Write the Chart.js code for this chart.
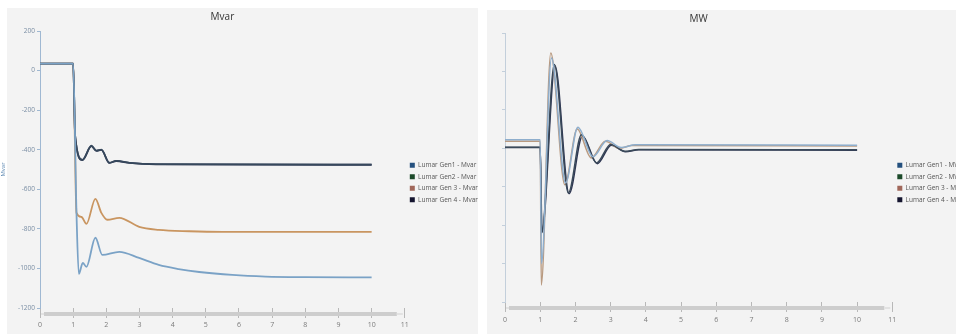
<!DOCTYPE html>
<html><head><meta charset="utf-8">
<script src="https://cdn.jsdelivr.net/npm/chart.js@4.4.1/dist/chart.umd.min.js"></script>
<style>
html,body{margin:0;padding:0;width:956px;height:334px;overflow:hidden;background:#fff;}
.panel{position:absolute;background:#f3f3f3}
.wrap{position:absolute;top:0;height:334px}
</style></head><body>
<div class="panel" style="left:7px;top:8px;width:471px;height:326px"></div>
<div class="panel" style="left:487px;top:10px;width:469px;height:324px"></div>
<div class="wrap" style="left:0;width:492px"><canvas id="c1"></canvas></div>
<div class="wrap" style="left:476px;width:500px"><canvas id="c2"></canvas></div>
<script>
// ---------- shared ----------
const xTicks = [0,1,2,3,4,5,6,7,8,9,10,11];
const legendSwatches = ['#24507e','#1c4a2a','#a0675a','#14142e'];

// ---------- Mvar (left) ----------
const mvarTitle = 'Mvar';
const mvarNames = ['Lumar Gen1 - Mvar','Lumar Gen2 - Mvar','Lumar Gen 3 - Mvar','Lumar Gen 4 - Mvar'];
const mvarYTicks = [200,0,-200,-400,-600,-800,-1000,-1200];

const mvarGen1T = [0,1.0,1.1,1.17,1.29,1.4,1.67,1.88,2.39,2.99,3.58,4.18,4.8,5.8,6.8,8,10];
const mvarGen1V = [35,35,-719,-1028,-972,-992,-845,-932,-916,-947,-982,-1003,-1018,-1033,-1041,-1044,-1045];

const mvarGen2T = [0,1.0,1.06,1.28,1.55,1.70,1.85,2.09,2.3,2.7,3.5,10];
const mvarGen2V = [35,35,-330,-451,-380,-405,-400,-466,-456,-466,-473,-475];

const mvarGen3T = [0,1.0,1.1,1.25,1.4,1.67,1.85,2.03,2.39,2.99,3.58,4.5,5.5,10];
const mvarGen3V = [35,35,-719,-740,-775,-648,-719,-754,-744,-790,-805,-812,-815,-815];

const mvarGen4T = [0,1.0,1.06,1.28,1.55,1.70,1.85,2.09,2.3,2.7,3.5,10];
const mvarGen4V = [35,35,-332,-452,-382,-406,-401,-467,-457,-467,-474,-476];

// ---------- MW (right) ----------
const mwTitle = 'MW';
const mwNames = ['Lumar Gen1 - MW','Lumar Gen2 - MW','Lumar Gen 3 - MW','Lumar Gen 4 - MW'];
const mwYTicks = [400,300,200,100,0,-100,-200,-300];

const mwGen1T = [0,1.0,1.035,1.32,1.72,2.07,2.5,2.9,3.3,3.7,10];
const mwGen1V = [122,122,-200,335,10,155,78,120,102,109,108];

const mwGen2T = [0,1.0,1.045,1.40,1.80,2.17,2.6,3.0,3.4,3.8,10];
const mwGen2V = [103,103,-120,318,-16,135,62,110,92,97,96];

const mwGen3T = [0,1.0,1.03,1.30,1.70,2.05,2.45,2.85,3.25,3.6,10];
const mwGen3V = [118,118,-256,348,5,150,75,118,100,107,106];

const mwGen4T = [0,1.0,1.05,1.42,1.82,2.20,2.62,3.02,3.42,3.8,10];
const mwGen4V = [102,102,-118,315,-18,132,60,108,91,96,95];

function pts(t,v){return t.map((x,i)=>({x:x,y:v[i]}));}

const rangeBar = {
  id:'rangeBar',
  afterDraw(chart, args, o){
    const a = chart.chartArea, ctx = chart.ctx;
    const y = a.bottom + o.offset;
    ctx.save();
    ctx.fillStyle = '#cdcdcd';
    ctx.fillRect(a.left+4, y, a.right - a.left - 12, 4);
    ctx.fillStyle = '#e2e2e2';
    ctx.fillRect(a.left+1, y+1, 3, 2);
    ctx.fillRect(a.right-8, y+1, 6, 2);
    ctx.restore();
  }
};

function legendLabels(chart){
  const items = Chart.defaults.plugins.legend.labels.generateLabels(chart);
  items.forEach((it,i)=>{it.fillStyle = legendSwatches[i]; it.strokeStyle = legendSwatches[i]; it.lineWidth = 0;});
  return items;
}

function makeChart(id, cfg){
  return new Chart(document.getElementById(id), {
    type:'line',
    data:{datasets: cfg.datasets},
    plugins:[rangeBar],
    options:{
      responsive:true, maintainAspectRatio:false, animation:false,
      layout:{padding:cfg.padding},
      elements:{point:{radius:0}, line:{cubicInterpolationMode:'monotone'}},
      plugins:{
        tooltip:{enabled:false},
        rangeBar:{offset:cfg.barOffset},
        title:{display:true, text:cfg.title, fullSize:false, color:'#333', font:{family:'Open Sans', size:10, weight:'normal'}, padding:cfg.titlePad},
        legend:{position:'right', align:'center',
          title:{display:true, text:' ', font:{size:1}, padding:{top:cfg.legendShift, bottom:0}},
          labels:{boxWidth:5, boxHeight:5, padding:5, color:'#555', font:{family:'Open Sans', size:6.5}, generateLabels:legendLabels}}
      },
      scales:{
        x:{type:'linear', min:0, max:11,
          afterBuildTicks(s){ s.ticks = xTicks.map(v=>({value:v})); },
          afterFit(s){ s.height = cfg.xHeight; },
          border:{display:false},
          grid:{drawOnChartArea:false, tickLength:cfg.xTickLen, color:'#b8b8b8'},
          ticks:{color:'#7a7a7a', font:{family:'Open Sans', size:7}, padding:cfg.xPad, maxRotation:0, autoSkip:false,
                 callback:v=>String(v)}
        },
        y:{min:cfg.ymin, max:cfg.ymax,
          afterBuildTicks(s){ s.ticks = cfg.yTicks.map(v=>({value:v})); },
          afterFit(s){ s.width = cfg.yWidth; },
          border:{display:true, color:cfg.yBorder, width:1},
          grid:{drawOnChartArea:false, tickLength:3, color:cfg.yBorder},
          title:{display:cfg.yTitle!=null, text:cfg.yTitle||'', color:'#5a86b0', font:{family:'Open Sans', size:6}, padding:{top:0,bottom:2}},
          ticks:{display:cfg.yLabels, color:'#7a8ea4', font:{family:'Open Sans', size:6.5}, padding:2, autoSkip:false,
                 callback:v=>String(v)}
        }
      }
    }
  });
}

makeChart('c1', {
  title:mvarTitle, ymin:-1200, ymax:200, yTicks:mvarYTicks, yLabels:true, yTitle:'Mvar',
  yBorder:'#9fb8d2', yWidth:40, xHeight:26, xTickLen:10, xPad:3, barOffset:4,
  padding:{left:0, right:4, top:0, bottom:0}, titlePad:{top:11, bottom:8}, legendShift:30,
  datasets:[
    {label:mvarNames[0], data:pts(mvarGen1T,mvarGen1V), borderColor:'#7aa2c6', borderWidth:1.8},
    {label:mvarNames[1], data:pts(mvarGen2T,mvarGen2V), borderColor:'#36485c', borderWidth:1.8},
    {label:mvarNames[2], data:pts(mvarGen3T,mvarGen3V), borderColor:'#c99560', borderWidth:1.8},
    {label:mvarNames[3], data:pts(mvarGen4T,mvarGen4V), borderColor:'#2e3654', borderWidth:1.8}
  ]
});

makeChart('c2', {
  title:mwTitle, ymin:-300, ymax:400, yTicks:mwYTicks, yLabels:false, yTitle:null,
  yBorder:'#c3cfdb', yWidth:29, xHeight:32, xTickLen:10, xPad:4, barOffset:4,
  padding:{left:0, right:4, top:0, bottom:0}, titlePad:{top:13, bottom:8}, legendShift:30,
  datasets:[
    {label:mwNames[0], data:pts(mwGen1T,mwGen1V), borderColor:'#8eaecd', borderWidth:1.5},
    {label:mwNames[1], data:pts(mwGen2T,mwGen2V), borderColor:'#3a4a5a', borderWidth:1.5},
    {label:mwNames[2], data:pts(mwGen3T,mwGen3V), borderColor:'#b99a80', borderWidth:1.5},
    {label:mwNames[3], data:pts(mwGen4T,mwGen4V), borderColor:'#2e3552', borderWidth:1.5}
  ]
});
</script>
</body></html>
